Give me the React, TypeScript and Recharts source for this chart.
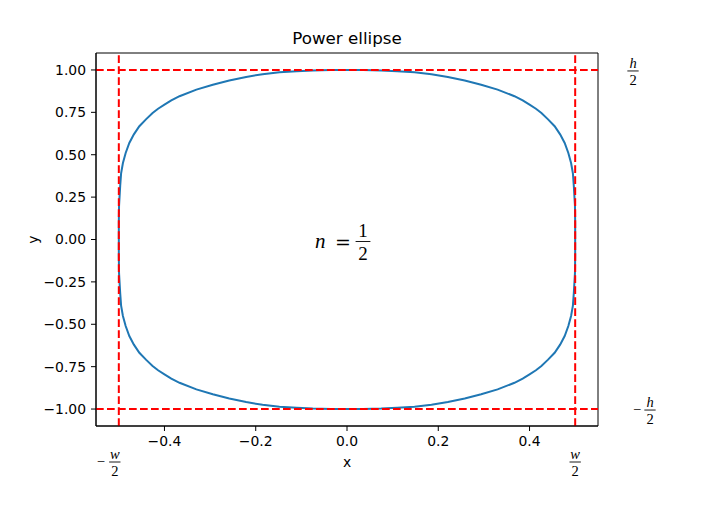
import React from 'react';
import { LineChart, Line, XAxis, YAxis, ReferenceLine, ReferenceArea, ReferenceDot } from 'recharts';

// Curve, quarter by quarter (counter-clockwise from (0.5, 0))
const q1X = [0.5, 0.5, 0.4995, 0.497, 0.495, 0.491, 0.485, 0.477, 0.467, 0.455, 0.44, 0.426, 0.414, 0.4, 0.385, 0.367, 0.33, 0.294, 0.258, 0.221, 0.185, 0.148, 0.11, 0.075, 0.035, 0];
const q1Y = [0, 0.1, 0.2, 0.316, 0.39, 0.451, 0.51, 0.569, 0.62, 0.668, 0.71, 0.746, 0.771, 0.795, 0.82, 0.845, 0.884, 0.913, 0.938, 0.959, 0.975, 0.987, 0.993, 0.997, 0.999, 1.0];
const q2X = [-0.035, -0.075, -0.11, -0.148, -0.185, -0.221, -0.258, -0.294, -0.33, -0.367, -0.385, -0.4, -0.414, -0.426, -0.44, -0.455, -0.467, -0.477, -0.485, -0.491, -0.495, -0.497, -0.4995, -0.5, -0.5];
const q2Y = [0.999, 0.997, 0.993, 0.987, 0.975, 0.959, 0.938, 0.913, 0.884, 0.845, 0.82, 0.795, 0.771, 0.746, 0.71, 0.668, 0.62, 0.569, 0.51, 0.451, 0.39, 0.316, 0.2, 0.1, 0];
const q3X = [-0.5, -0.4995, -0.497, -0.495, -0.491, -0.485, -0.477, -0.467, -0.455, -0.44, -0.426, -0.414, -0.4, -0.385, -0.367, -0.33, -0.294, -0.258, -0.221, -0.185, -0.148, -0.11, -0.075, -0.035, 0];
const q3Y = [-0.1, -0.2, -0.316, -0.39, -0.451, -0.51, -0.569, -0.62, -0.668, -0.71, -0.746, -0.771, -0.795, -0.82, -0.845, -0.884, -0.913, -0.938, -0.959, -0.975, -0.987, -0.993, -0.997, -0.999, -1.0];
const q4X = [0.035, 0.075, 0.11, 0.148, 0.185, 0.221, 0.258, 0.294, 0.33, 0.367, 0.385, 0.4, 0.414, 0.426, 0.44, 0.455, 0.467, 0.477, 0.485, 0.491, 0.495, 0.497, 0.4995, 0.5, 0.5];
const q4Y = [-0.999, -0.997, -0.993, -0.987, -0.975, -0.959, -0.938, -0.913, -0.884, -0.845, -0.82, -0.795, -0.771, -0.746, -0.71, -0.668, -0.62, -0.569, -0.51, -0.451, -0.39, -0.316, -0.2, -0.1, 0];

const xTicks = [-0.4, -0.2, 0, 0.2, 0.4];
const yTicks = [-1, -0.75, -0.5, -0.25, 0, 0.25, 0.5, 0.75, 1];
const xDomain: [number, number] = [-0.55, 0.55];
const yDomain: [number, number] = [-1.1, 1.1];
const halfW = 0.5;
const halfH = 1;
const title = 'Power ellipse';

const curveX = [...q1X, ...q2X, ...q3X, ...q4X];
const curveY = [...q1Y, ...q2Y, ...q3Y, ...q4Y];
const data = curveX.map((x, i) => ({ x, y: curveY[i] }));

const SANS = "'DejaVu Sans', sans-serif";
const SERIF = "'Liberation Serif', 'DejaVu Serif', serif";

const fmt = (v: number, d: number) => v.toFixed(d).replace('-', '\u2212');

function Frac({ cx, barY, num, size, minus, minusX, italic = true }: any) {
  const w = size * 0.78;
  return (
    <g>
      {minus && (
        <text x={minusX} y={barY + size * 0.28} textAnchor="middle" fontFamily={SERIF} fontSize={size} fill="#000">
          {'\u2212'}
        </text>
      )}
      <text x={cx} y={barY - size * 0.22} textAnchor="middle" fontFamily={SERIF} fontStyle={italic ? 'italic' : 'normal'} fontSize={size} fill="#000">
        {num}
      </text>
      <line x1={cx - w / 2} x2={cx + w / 2} y1={barY} y2={barY} stroke="#000" strokeWidth={0.9} />
      <text x={cx} y={barY + size * 0.98} textAnchor="middle" fontFamily={SERIF} fontSize={size} fill="#000">
        2
      </text>
    </g>
  );
}

export default function App() {
  const red = '#ff0000';
  const dash = '7.7 3.3';
  return (
    <div style={{ position: 'absolute', left: 0, top: 0, width: 703, height: 519, background: '#fff' }}>
      <div
        style={{
          position: 'absolute',
          left: 0,
          width: 694,
          top: 28,
          textAlign: 'center',
          fontFamily: SANS,
          fontSize: 16.7,
          lineHeight: '20px',
          color: '#000',
        }}
      >
        {title}
      </div>
      <LineChart width={703} height={519} data={data} margin={{ top: 53, right: 105, bottom: 63, left: 36 }}>
        <XAxis
          dataKey="x"
          type="number"
          domain={xDomain}
          ticks={xTicks}
          tickFormatter={(v: number) => fmt(v, 1)}
          height={30}
          tickSize={5}
          tickMargin={5}
          stroke="#000"
          tick={{ fill: '#000', fontSize: 13.9, fontFamily: SANS }}
          allowDataOverflow
          label={(p: any) => (
            <text x={p.viewBox.x + p.viewBox.width / 2} y={p.viewBox.y + 41} textAnchor="middle" fontFamily={SANS} fontSize={13.9} fill="#000">
              x
            </text>
          )}
        />
        <YAxis
          dataKey="y"
          type="number"
          domain={yDomain}
          ticks={yTicks}
          tickFormatter={(v: number) => fmt(v, 2)}
          width={60}
          tickSize={5}
          tickMargin={5}
          stroke="#000"
          tick={{ fill: '#000', fontSize: 13.9, fontFamily: SANS }}
          allowDataOverflow
          label={(p: any) => {
            const cx = p.viewBox.x - 3;
            const cy = p.viewBox.y + p.viewBox.height / 2;
            return (
              <text x={cx} y={cy} transform={`rotate(-90 ${cx} ${cy})`} textAnchor="middle" dominantBaseline="central" fontFamily={SANS} fontSize={13.9} fill="#000">
                y
              </text>
            );
          }}
        />
        <ReferenceArea x1={xDomain[0]} x2={xDomain[1]} y1={yDomain[0]} y2={yDomain[1]} fill="none" stroke="#000" strokeWidth={1} fillOpacity={0} />
        <Line dataKey="y" type="linear" stroke="#1f77b4" strokeWidth={2} dot={false} activeDot={false} isAnimationActive={false} />
        <ReferenceLine
          y={halfH}
          stroke={red}
          strokeWidth={2}
          strokeDasharray={dash}
          label={(p: any) => <Frac cx={p.viewBox.x + p.viewBox.width + 35} barY={p.viewBox.y + 1} num="h" size={14.5} />}
        />
        <ReferenceLine
          y={-halfH}
          stroke={red}
          strokeWidth={2}
          strokeDasharray={dash}
          label={(p: any) => (
            <Frac cx={p.viewBox.x + p.viewBox.width + 52} barY={p.viewBox.y + 1} num="h" size={14.5} minus minusX={p.viewBox.x + p.viewBox.width + 39} />
          )}
        />
        <ReferenceLine
          x={-halfW}
          stroke={red}
          strokeWidth={2}
          strokeDasharray={dash}
          label={(p: any) => (
            <Frac cx={p.viewBox.x - 4} barY={p.viewBox.y + p.viewBox.height + 36} num="w" size={14.5} minus minusX={p.viewBox.x - 18} />
          )}
        />
        <ReferenceLine
          x={halfW}
          stroke={red}
          strokeWidth={2}
          strokeDasharray={dash}
          label={(p: any) => <Frac cx={p.viewBox.x} barY={p.viewBox.y + p.viewBox.height + 36} num="w" size={14.5} />}
        />
        <ReferenceDot
          x={0}
          y={0}
          r={0}
          fill="none"
          stroke="none"
          label={(p: any) => {
            const cx = p.viewBox.x + p.viewBox.width / 2;
            const cy = p.viewBox.y + p.viewBox.height / 2;
            return (
              <g>
                <text x={cx - 32} y={cy + 8} fontFamily={SERIF} fontStyle="italic" fontSize={21} fill="#000">
                  n
                </text>
                <text x={cx - 12} y={cy + 9} fontFamily="'DejaVu Serif', serif" fontSize={19} fill="#000">
                  =
                </text>
                <Frac cx={cx + 16} barY={cy + 2} num="1" size={19} italic={false} />
              </g>
            );
          }}
        />
      </LineChart>
    </div>
  );
}
